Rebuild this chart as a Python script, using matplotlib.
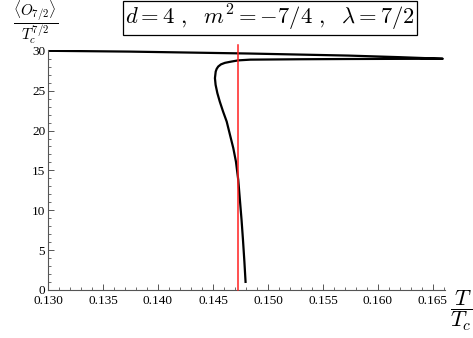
import matplotlib
matplotlib.use("Agg")
import matplotlib.pyplot as plt
from matplotlib.ticker import MultipleLocator, FormatStrFormatter

plt.rcParams['mathtext.fontset'] = 'cm'
plt.rcParams['font.family'] = ['Liberation Serif', 'DejaVu Serif']

# Curve data (T/Tc, <O>/Tc^{7/2}) traced along the branch
T_vals = [0.1300, 0.1374, 0.1482, 0.1573, 0.1620, 0.1659,
          0.1620, 0.1573, 0.1530, 0.1484, 0.14730, 0.14664, 0.14609,
          0.14573, 0.14548, 0.14534, 0.14525, 0.14518, 0.14524, 0.14540,
          0.14562, 0.14592, 0.14625, 0.14655, 0.14685, 0.14709, 0.14730,
          0.14745, 0.14760, 0.14773, 0.14786, 0.14797]
O_vals = [30.00, 29.90, 29.66, 29.40, 29.20, 29.00,
          28.99, 28.97, 28.94, 28.89, 28.80, 28.64, 28.49,
          28.30, 28.03, 27.74, 27.40, 26.57, 25.73, 24.69,
          23.63, 22.38, 21.12, 19.45, 17.79, 16.10, 13.81,
          11.30, 8.79, 6.28, 3.51, 0.88]
T_critical_line = 0.1473

x_min, x_max = 0.130, 0.1661
y_min, y_max = 0.0, 30.1

fig = plt.figure(figsize=(4.73, 3.38), dpi=100)
ax = fig.add_axes([48/473, 1-290/338, (445-48)/473, (290-50)/338])

ax.plot(T_vals, O_vals, color='black', lw=1.6, solid_capstyle='butt',
        solid_joinstyle='round')
ax.plot([T_critical_line, T_critical_line], [0, 30.7], color='#ff2020', lw=1.1,
        clip_on=False, zorder=3)

ax.set_xlim(x_min, x_max)
ax.set_ylim(y_min, y_max)

for s in ['top', 'right']:
    ax.spines[s].set_visible(False)
for s in ['left', 'bottom']:
    ax.spines[s].set_color('#555555')
    ax.spines[s].set_linewidth(0.8)

ax.xaxis.set_major_locator(MultipleLocator(0.005))
ax.xaxis.set_minor_locator(MultipleLocator(0.001))
ax.yaxis.set_major_locator(MultipleLocator(5))
ax.yaxis.set_minor_locator(MultipleLocator(1))
ax.xaxis.set_major_formatter(FormatStrFormatter('%.3f'))
ax.tick_params(which='both', direction='in', color='#555555', labelsize=9.5, pad=2)
ax.tick_params(axis='x', which='both', pad=3.5)
ax.tick_params(which='major', length=4, width=0.7)
ax.tick_params(which='minor', length=2.2, width=0.6)

fig.text(36/473, 1-22.5/338, r'$\dfrac{\langle O_{7/2}\rangle}{T_c^{7/2}}$',
         ha='center', va='center', fontsize=11)
fig.text(462/473, 1-311/338, r'$\dfrac{T}{T_c}$', ha='center', va='center', fontsize=16)

fig.text(270/473, 1-18/338,
         r'$d=4\ ,\ \ m^2=-7/4\ ,\ \ \lambda=7/2$',
         ha='center', va='center', fontsize=16.3,
         bbox=dict(boxstyle='square,pad=0.1', facecolor='white',
                   edgecolor='black', linewidth=0.9))

fig.savefig('out.png', dpi=100)
